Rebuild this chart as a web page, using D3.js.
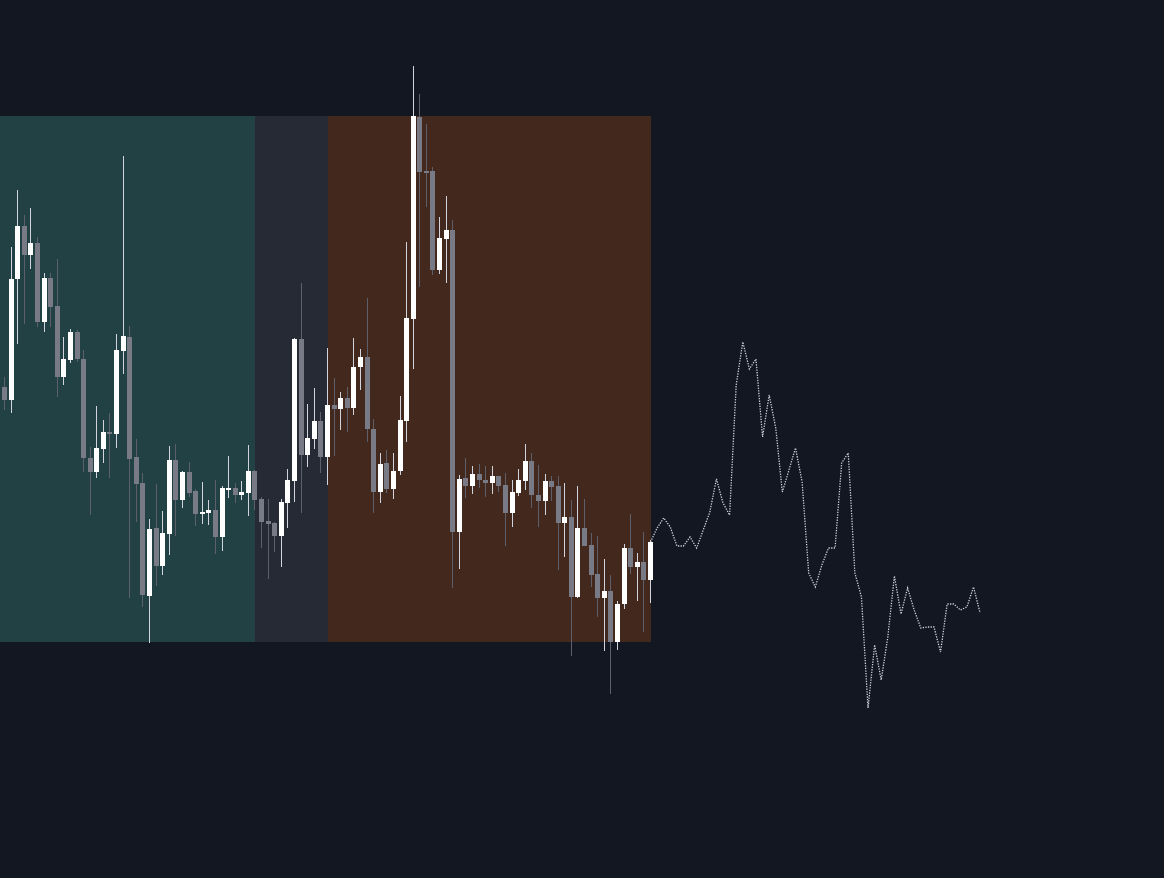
<!DOCTYPE html>
<html lang="en">
  <head>
    <meta charset="UTF-8">
    <title>candles with projection</title>
    <script src="https://d3js.org/d3.v7.min.js"></script>
    <style>
      html, body { margin: 0; padding: 0; background-color: #131722; overflow: hidden; }
      svg { display: block; }
    </style>
  </head>
  <body>
    <script>
        // price data, one entry per bar
        const opens  = [51.3,50.0,62.1,67.4,64.5,65.7,57.8,62.2,59.4,52.3,54.0,56.8,54.1,44.2,42.8,45.1,46.8,46.6,54.9,56.3,
                        44.3,41.7,30.4,37.2,33.4,36.6,44.0,40.0,42.8,40.9,38.6,38.7,39.0,36.3,41.1,41.2,40.5,40.7,42.9,40.1,
                        37.9,37.7,36.4,39.7,41.9,56.1,44.5,46.1,47.9,44.3,49.5,49.1,50.2,49.2,53.3,54.3,47.1,40.8,43.7,41.1,
                        42.9,47.9,58.1,78.3,72.9,72.9,63.0,66.1,67.0,36.8,42.2,41.4,42.6,42.0,41.7,42.4,41.5,38.7,40.7,41.9,
                        43.9,40.5,39.9,41.9,41.4,37.7,38.3,30.3,37.2,35.5,32.6,30.2,30.9,25.8,29.6,35.2,33.3,33.8,32.0];
        const closes = [50.0,62.1,67.4,64.5,65.7,57.8,62.2,59.3,52.3,54.1,56.8,54.1,44.2,42.8,45.2,46.8,46.6,55.0,56.4,44.1,
                        41.6,30.5,37.1,33.4,36.7,44.0,40.0,42.8,40.7,38.6,38.8,39.0,36.3,41.2,41.2,40.5,40.8,42.9,40.0,37.8,
                        37.6,36.4,39.8,42.0,56.1,44.5,46.2,47.9,44.3,49.5,49.1,50.2,49.2,53.3,54.3,47.1,40.8,43.6,41.1,42.9,
                        48.0,58.2,78.4,72.8,72.8,63.0,66.2,67.0,36.8,42.1,41.4,42.6,42.0,41.7,42.4,41.4,38.7,40.8,42.0,43.9,
                        40.5,39.9,41.9,41.3,37.7,38.3,30.3,37.2,35.4,32.5,30.2,30.9,25.8,29.6,35.2,33.3,33.8,32.0,35.8];
        const highs  = [52.3,65.3,71.0,68.5,69.2,66.3,62.7,62.7,64.1,56.3,57.1,57.0,55.0,45.3,49.4,48.0,48.7,56.6,74.4,57.4,
                        46.1,42.7,38.1,41.6,38.9,45.4,45.6,42.9,43.8,41.1,41.8,40.0,42.0,41.4,44.4,41.7,41.9,45.5,43.0,40.3,
                        40.1,37.8,40.1,43.1,56.2,61.7,49.6,51.2,48.8,55.2,52.2,50.8,51.3,56.2,55.1,60.2,48.1,44.7,45.0,44.7,
                        50.4,65.8,83.4,80.6,77.6,73.3,68.3,70.4,68.0,42.5,44.2,43.4,43.6,43.4,43.4,42.4,42.7,42.0,43.1,45.6,
                        44.7,43.5,42.6,42.4,42.4,41.7,40.0,41.4,40.1,36.7,36.4,34.1,32.5,29.9,35.6,38.6,34.7,36.8,36.0];
        const lows   = [49.0,48.7,55.6,57.6,63.1,57.3,56.8,57.3,50.3,51.5,53.7,53.8,42.8,38.5,42.2,43.7,42.2,45.2,52.6,30.2,
                        37.8,29.3,25.7,31.4,32.5,34.5,36.4,39.2,40.3,37.4,37.6,37.5,34.6,34.9,40.2,39.7,40.0,38.4,39.0,35.2,
                        32.1,34.8,33.3,37.2,39.8,38.7,43.3,45.1,42.7,41.5,44.4,47.0,46.8,48.5,51.0,45.8,38.7,39.7,40.7,40.1,
                        42.5,45.8,53.1,61.3,69.3,62.5,62.6,61.7,31.2,33.1,40.2,40.6,41.2,40.3,40.6,40.8,35.4,37.3,40.4,41.0,
                        39.2,37.3,38.5,39.9,33.0,34.3,24.4,30.2,35.4,31.3,28.3,24.9,20.6,25.0,29.1,32.6,29.9,26.8,29.7];

        // projected path after the last bar
        const forecast = [37.2,38.2,37.3,35.4,35.4,36.3,35.2,37.0,38.8,42.1,39.7,38.5,51.5,55.8,53.1,54.1,46.3,50.5,47.2,40.8,
                          43.0,45.2,41.8,32.7,31.3,33.5,35.2,35.2,43.7,44.7,32.7,30.3,19.2,25.5,22.0,26.3,32.4,28.6,31.2,29.0,
                          27.2,27.3,27.3,24.8,29.6,29.6,29.0,29.3,31.3,28.7];

        // shaded zones, in bar indexes
        const zoneStart = [-10, 38, 49];
        const zoneEnd   = [38, 49, 98];

        const zoneColors = ["#224145", "#262a35", "#43281e"];
        const w = 1164;
        const h = 878;

        const svg = d3.select("body")
                      .append("svg")
                      .attr("width", w)
                      .attr("height", h)
                      .style("background-color", "#131722");

        const bars = opens.map((o, i) => ({i: i, o: o, c: closes[i], hi: highs[i], lo: lows[i]}));
        const last = bars.length - 1;

        const xScale = d3.scaleLinear()
                         .domain([0, last + forecast.length])
                         .range([4.5, 980.1]);

        const yScale = d3.scaleLinear()
                         .domain([0, 90])
                         .range([900, 0]);

        const bodyTop = d3.max(bars, d => Math.max(d.o, d.c));
        const bodyBottom = d3.min(bars, d => Math.min(d.o, d.c));

        svg.selectAll("rect.zone")
           .data(zoneStart)
           .enter()
           .append("rect")
           .attr("class", "zone")
           .attr("x", (d) => xScale(d))
           .attr("width", (d, i) => xScale(zoneEnd[i]) - xScale(d))
           .attr("y", yScale(bodyTop))
           .attr("height", yScale(bodyBottom) - yScale(bodyTop))
           .attr("shape-rendering", "crispEdges")
           .style("fill", (d, i) => zoneColors[i]);

        const up = (d) => d.c >= d.o;

        svg.selectAll("rect.wick")
           .data(bars)
           .enter()
           .append("rect")
           .attr("class", "wick")
           .attr("x", (d) => Math.round(xScale(d.i) - 0.5))
           .attr("width", 1)
           .attr("y", (d) => yScale(d.hi))
           .attr("height", (d) => yScale(d.lo) - yScale(d.hi))
           .attr("shape-rendering", "crispEdges")
           .style("fill", (d) => up(d) ? "#d1d4dc" : "#5d606b");

        svg.selectAll("rect.body")
           .data(bars)
           .enter()
           .append("rect")
           .attr("class", "body")
           .attr("x", (d) => Math.round(xScale(d.i) - 2.5))
           .attr("width", 5)
           .attr("y", (d) => yScale(Math.max(d.o, d.c)))
           .attr("height", (d) => Math.max(1.5, Math.abs(yScale(d.o) - yScale(d.c))))
           .attr("shape-rendering", "crispEdges")
           .style("fill", (d) => up(d) ? "#ffffff" : "#787b86");

        const path = [closes[last]].concat(forecast);

        const line = d3.line()
                       .x((d, k) => xScale(last + k))
                       .y((d) => yScale(d));

        svg.append("path")
           .datum(path)
           .attr("d", line)
           .style("fill", "none")
           .style("stroke", "#d1d4dc")
           .style("stroke-width", 1.3)
           .style("stroke-dasharray", "1.3,1.3");
    </script>
  </body>
</html>
